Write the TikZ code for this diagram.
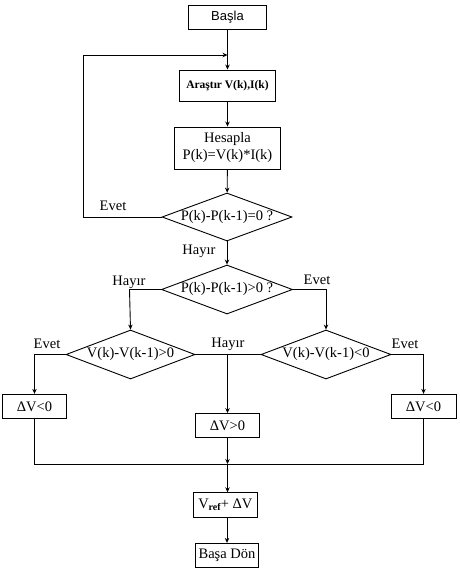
\documentclass[tikz,border=0pt]{standalone}
\usepackage{fontspec}
\setmainfont{Liberation Serif}
\newfontfamily\arialf{Liberation Sans}
\usetikzlibrary{shapes.geometric,arrows.meta}
\begin{document}
\begin{tikzpicture}[x=1pt,y=-1pt, line width=0.9pt,
  box/.style={draw, rectangle, inner sep=0pt, align=center, font=\fontsize{14.5}{17}\selectfont},
  dia/.style={draw, diamond, inner sep=0pt, aspect=2.7, font=\fontsize{14.5}{17}\selectfont},
  lbl/.style={inner sep=0pt, font=\fontsize{14.5}{17}\selectfont},
  arr/.style={-{Stealth[length=5pt,width=4.5pt]}}]
\useasboundingbox (0,0) rectangle (460,570);
% nodes
\node[box, minimum width=78pt, minimum height=24pt, font=\arialf\fontsize{13}{15}\selectfont] (basla) at (227.5,17) {Başla};
\node[box, minimum width=96pt, minimum height=31pt, font=\fontsize{11.5}{14}\selectfont\bfseries] (arastir) at (227.5,85.5) {Araştır V(k),I(k)};
\node[box, minimum width=106pt, minimum height=42pt] (hesapla) at (227.5,148) {Hesapla\\P(k)=V(k)*I(k)};
\node[dia, minimum width=130pt, minimum height=48pt] (d1) at (227,217) {P(k)-P(k-1)=0 ?};
\node[dia, minimum width=131pt, minimum height=49pt] (d2) at (227,289.5) {P(k)-P(k-1)>0 ?};
\node[dia, minimum width=129pt, minimum height=49pt] (d3) at (130.5,354.5) {V(k)-V(k-1)>0};
\node[dia, minimum width=130pt, minimum height=49pt] (d4) at (326,354.5) {V(k)-V(k-1)<0};
\node[box, minimum width=64pt, minimum height=24pt] (dvl) at (34.5,406.3) {ΔV<0};
\node[box, minimum width=64pt, minimum height=24pt] (dvm) at (227.5,425.5) {ΔV>0};
\node[box, minimum width=65pt, minimum height=24pt] (dvr) at (423.5,406.3) {ΔV<0};
\node[box, minimum width=64pt, minimum height=24.5pt] (vref) at (225.3,505) {V\raisebox{-2.5pt}{\fontsize{10}{12}\selectfont\bfseries ref}+ ΔV};
\node[box, minimum width=63pt, minimum height=24pt] (basadon) at (227,555.3) {Başa Dön};
% labels
\node[lbl] (levet1) at (113,206) {Evet};
\node[lbl] (lhayir1) at (199,251) {Hayır};
\node[lbl] (lhayir2) at (129,282) {Hayır};
\node[lbl] (levet2) at (317,280) {Evet};
\node[lbl] (levet3) at (47,344) {Evet};
\node[lbl] (lhayir3) at (228,344) {Hayır};
\node[lbl] (levet4) at (405,344) {Evet};
% coordinates
\coordinate (loopA) at (83,217);
\coordinate (loopB) at (83,55);
\coordinate (loopC) at (227.5,55);
\coordinate (jl) at (129.5,289.5);
\coordinate (jr) at (326,289.5);
\coordinate (el) at (34.5,354.5);
\coordinate (er) at (423.5,354.5);
\coordinate (mh) at (227.5,354.5);
\coordinate (bl) at (34.5,464);
\coordinate (bm) at (227.5,464);
\coordinate (br) at (423.5,464);
% connectors
\draw[arr] (basla) -- (arastir);
\draw[arr] (d1.west) -- (loopA) -- (loopB) -- (loopC);
\draw[arr] (arastir) -- (hesapla);
\draw[arr] (hesapla) -- (d1);
\draw[arr] (d1) -- (d2);
\draw[arr] (d2.west) -- (jl) -- (d3.north);
\draw[arr] (d2.east) -- (jr) -- (d4.north);
\draw[arr] (d3.west) -- (el) -- (dvl.north);
\draw[arr] (d4.east) -- (er) -- (dvr.north);
\draw (d3.east) -- (d4.west);
\draw[arr] (mh) -- (dvm.north);
\draw (dvl.south) -- (bl) -- (br) -- (dvr.south);
\draw[arr] (dvm.south) -- (bm);
\draw[arr] (bm) -- (vref.north -| bm);
\draw[arr] (vref.south -| basadon.north) -- (basadon.north);
\end{tikzpicture}
\end{document}
